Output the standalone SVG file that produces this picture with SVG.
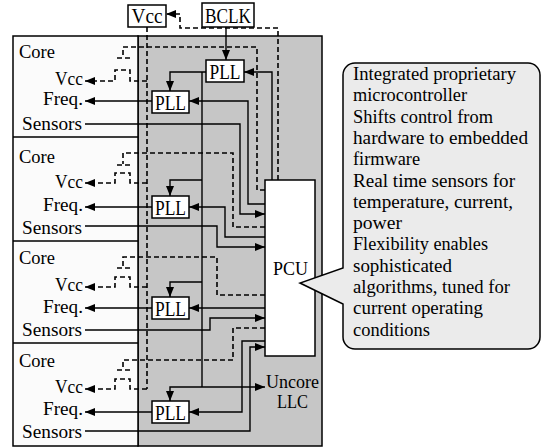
<svg xmlns="http://www.w3.org/2000/svg" width="544" height="448" viewBox="0 0 544 448">
<defs>
<marker id="ah" viewBox="0 0 10 8" refX="10" refY="4" markerWidth="10" markerHeight="8" markerUnits="userSpaceOnUse" orient="auto"><path d="M0,0 L10,4 L0,8 z" fill="#000" stroke="none"/></marker>
</defs>
<style>
text{font-family:"Liberation Serif","Times New Roman",serif;fill:#000}
.lbl{font-size:18px}
.big{font-size:21px}
.call{font-size:18px}
.box{fill:#fff;stroke:#000;stroke-width:1.5}
.s{fill:none;stroke:#000;stroke-width:1.4}
.d{fill:none;stroke:#000;stroke-width:1.6;stroke-dasharray:5 3}
.a{marker-end:url(#ah)}
</style>
<rect x="0" y="0" width="544" height="448" fill="#fff"/>
<g id="uncore">
<rect x="138" y="36" width="184" height="410" fill="#c6c6c6" stroke="#000" stroke-width="1.5"/>
<text class="lbl" x="266" y="388" textLength="53" lengthAdjust="spacingAndGlyphs">Uncore</text>
<text class="lbl" x="277" y="408" textLength="31" lengthAdjust="spacingAndGlyphs">LLC</text>
</g>
<g id="cores">
<rect x="13" y="36" width="125" height="410" fill="#fbfbfb" stroke="#000" stroke-width="1.5"/>
<path d="M13,137 H138 M13,241 H138 M13,343 H138" stroke="#000" stroke-width="1.5"/>
</g>
<g id="core1">
<text class="lbl" x="19" y="58" textLength="36" lengthAdjust="spacingAndGlyphs">Core</text>
<text class="lbl" x="55" y="85" textLength="28" lengthAdjust="spacingAndGlyphs">Vcc</text>
<text class="lbl" x="43" y="105" textLength="40" lengthAdjust="spacingAndGlyphs">Freq.</text>
<text class="lbl" x="22" y="130" textLength="60" lengthAdjust="spacingAndGlyphs">Sensors</text>
</g>
<g id="core2">
<text class="lbl" x="19" y="163" textLength="36" lengthAdjust="spacingAndGlyphs">Core</text>
<text class="lbl" x="55" y="188" textLength="28" lengthAdjust="spacingAndGlyphs">Vcc</text>
<text class="lbl" x="43" y="211" textLength="40" lengthAdjust="spacingAndGlyphs">Freq.</text>
<text class="lbl" x="22" y="234" textLength="60" lengthAdjust="spacingAndGlyphs">Sensors</text>
</g>
<g id="core3">
<text class="lbl" x="19" y="264" textLength="36" lengthAdjust="spacingAndGlyphs">Core</text>
<text class="lbl" x="55" y="291" textLength="28" lengthAdjust="spacingAndGlyphs">Vcc</text>
<text class="lbl" x="43" y="313" textLength="40" lengthAdjust="spacingAndGlyphs">Freq.</text>
<text class="lbl" x="22" y="336" textLength="60" lengthAdjust="spacingAndGlyphs">Sensors</text>
</g>
<g id="core4">
<text class="lbl" x="19" y="367" textLength="36" lengthAdjust="spacingAndGlyphs">Core</text>
<text class="lbl" x="55" y="393" textLength="28" lengthAdjust="spacingAndGlyphs">Vcc</text>
<text class="lbl" x="43" y="415" textLength="40" lengthAdjust="spacingAndGlyphs">Freq.</text>
<text class="lbl" x="22" y="438" textLength="60" lengthAdjust="spacingAndGlyphs">Sensors</text>
</g>
<g id="connectors">
<path class="s a" d="M226,27 V60"/>
<path class="s a" d="M272,180 V72 H244"/>
<path class="s a" d="M206,72 H170 V91"/>
<path class="s" d="M202,72 V387"/>
<path class="s a" d="M202,180 H170 V196"/>
<path class="s a" d="M202,282 H170 V297"/>
<path class="s a" d="M202,387 H170 V401"/>
<path class="s a" d="M202,387 H265"/>
<path class="s a" d="M152,101 H85"/>
<path class="s a" d="M152,207 H85"/>
<path class="s a" d="M152,308 H85"/>
<path class="s a" d="M152,412 H85"/>
<path class="s a" d="M265,204 H248 V101 H189"/>
<path class="s a" d="M265,237 H225 V207 H189"/>
<path class="s a" d="M265,308 H189"/>
<path class="s a" d="M265,341 H242 V412 H189"/>
<path class="s a" d="M85,124 H240 V214 H265"/>
<path class="s a" d="M85,226 H217 V247 H265"/>
<path class="s a" d="M85,330 H210 V318 H265"/>
<path class="s a" d="M85,431 H250 V347 H265"/>
<path class="d a" d="M278,180 V28 H180 V14 H166"/>
<path class="d" d="M147,27 V389"/>
<path class="d" d="M265,190 H257 V47 H123 V57 M117,58 H131"/>
<path class="d a" d="M147,81 H130 V70 H115 V81 H85"/>
<path class="d" d="M265,227 H233 V153 H123 V164 M117,165 H131"/>
<path class="d a" d="M147,183 H130 V173 H115 V183 H85"/>
<path class="d" d="M265,295 H217 V257 H123 V267 M117,268 H131"/>
<path class="d a" d="M147,287 H130 V277 H115 V287 H85"/>
<path class="d" d="M265,328 H233 V360 H123 V369 M117,370 H131"/>
<path class="d a" d="M147,389 H130 V379 H115 V389 H85"/>
</g>
<g id="vcc">
<rect class="box" x="128" y="5" width="38" height="22"/>
<text class="big" x="147" y="23" text-anchor="middle" textLength="31" lengthAdjust="spacingAndGlyphs">Vcc</text>
</g>
<g id="bclk">
<rect class="box" x="202" y="3" width="52" height="24"/>
<text class="big" x="228" y="23" text-anchor="middle" textLength="46" lengthAdjust="spacingAndGlyphs">BCLK</text>
</g>
<g id="pll0">
<rect class="box" x="206" y="60" width="38" height="22"/>
<text class="big" x="225" y="79" text-anchor="middle" textLength="31" lengthAdjust="spacingAndGlyphs">PLL</text>
</g>
<g id="pll1">
<rect class="box" x="152" y="91" width="37" height="22"/>
<text class="big" x="170.5" y="110" text-anchor="middle" textLength="31" lengthAdjust="spacingAndGlyphs">PLL</text>
</g>
<g id="pll2">
<rect class="box" x="152" y="196" width="37" height="22"/>
<text class="big" x="170.5" y="215" text-anchor="middle" textLength="31" lengthAdjust="spacingAndGlyphs">PLL</text>
</g>
<g id="pll3">
<rect class="box" x="152" y="297" width="37" height="22"/>
<text class="big" x="170.5" y="316" text-anchor="middle" textLength="31" lengthAdjust="spacingAndGlyphs">PLL</text>
</g>
<g id="pll4">
<rect class="box" x="152" y="401" width="37" height="22"/>
<text class="big" x="170.5" y="420" text-anchor="middle" textLength="31" lengthAdjust="spacingAndGlyphs">PLL</text>
</g>
<g id="pcu">
<rect class="box" x="265" y="180" width="50" height="176"/>
<text class="lbl" x="273" y="275" textLength="35" lengthAdjust="spacingAndGlyphs">PCU</text>
</g>
<g id="callout">
<path d="M355,63 H528 A12,12 0 0 1 540,75 V337 A12,12 0 0 1 528,349 H355 A12,12 0 0 1 343,337 V304 L300,283 L343,268 V75 A12,12 0 0 1 355,63 Z" fill="#ebebeb" stroke="#000" stroke-width="1.5"/>
<text class="call" x="353" y="80" textLength="163" lengthAdjust="spacingAndGlyphs">Integrated proprietary</text>
<text class="call" x="353" y="101.3" textLength="114" lengthAdjust="spacingAndGlyphs">microcontroller</text>
<text class="call" x="353" y="122.6" textLength="140" lengthAdjust="spacingAndGlyphs">Shifts control from</text>
<text class="call" x="353" y="143.9" textLength="175" lengthAdjust="spacingAndGlyphs">hardware to embedded</text>
<text class="call" x="353" y="165.2" textLength="67" lengthAdjust="spacingAndGlyphs">firmware</text>
<text class="call" x="353" y="186.5" textLength="162" lengthAdjust="spacingAndGlyphs">Real time sensors for</text>
<text class="call" x="353" y="207.8" textLength="160" lengthAdjust="spacingAndGlyphs">temperature, current,</text>
<text class="call" x="353" y="229.1" textLength="49" lengthAdjust="spacingAndGlyphs">power</text>
<text class="call" x="353" y="250.4" textLength="135" lengthAdjust="spacingAndGlyphs">Flexibility enables</text>
<text class="call" x="353" y="271.7" textLength="99" lengthAdjust="spacingAndGlyphs">sophisticated</text>
<text class="call" x="353" y="293" textLength="157" lengthAdjust="spacingAndGlyphs">algorithms, tuned for</text>
<text class="call" x="353" y="314.3" textLength="130" lengthAdjust="spacingAndGlyphs">current operating</text>
<text class="call" x="353" y="335.6" textLength="77" lengthAdjust="spacingAndGlyphs">conditions</text>
</g>
</svg>
